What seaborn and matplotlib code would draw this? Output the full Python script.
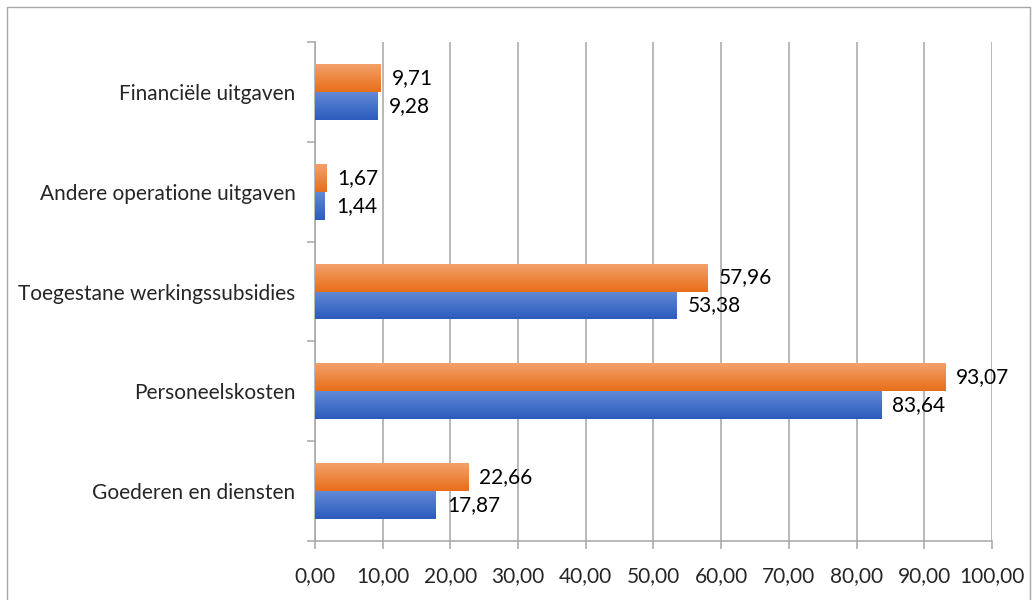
import numpy as np
import pandas as pd
import seaborn as sns
import matplotlib.pyplot as plt
from matplotlib.colors import LinearSegmentedColormap
from matplotlib.patches import Rectangle
from matplotlib.ticker import FixedLocator

categories = ["Financiële uitgaven", "Andere operatione uitgaven",
              "Toegestane werkingssubsidies", "Personeelskosten",
              "Goederen en diensten"]
series_names = ["Reeks 1", "Reeks 2"]
orange_vals = [9.71, 1.67, 57.96, 93.07, 22.66]
blue_vals = [9.28, 1.44, 53.38, 83.64, 17.87]
x_ticks = [0, 10, 20, 30, 40, 50, 60, 70, 80, 90, 100]

df = pd.DataFrame({
    "categorie": categories * 2,
    "reeks": [series_names[0]] * 5 + [series_names[1]] * 5,
    "waarde": orange_vals + blue_vals,
})

sns.set_style("white")
plt.rcParams['font.family'] = ['Lato', 'DejaVu Sans']

fig = plt.figure(figsize=(10.34, 6), dpi=100)
ax = fig.add_axes([0.3046, 0.0983, 0.6548, 0.8317])

palette = {series_names[0]: "#ED7D31", series_names[1]: "#4472C4"}
sns.barplot(data=df, y="categorie", x="waarde", hue="reeks", order=categories,
            hue_order=series_names, palette=palette, width=0.56, orient="h",
            legend=False, ax=ax, zorder=3, edgecolor="none", saturation=1)

grads = {0: ("#F4A069", "#E86E1A"), 1: ("#6189D6", "#2B5BBD")}
for i, cont in enumerate(ax.containers):
    cmap = LinearSegmentedColormap.from_list("g%d" % i, grads[i])
    for bar in cont:
        x0, y0, w, h = bar.get_x(), bar.get_y(), bar.get_width(), bar.get_height()
        grad = np.linspace(0, 1, 64).reshape(-1, 1)
        im = ax.imshow(grad, extent=[x0, x0 + w, y0 + h, y0], origin="upper",
                       aspect="auto", cmap=cmap, zorder=4)
        im.set_clip_path(bar)
    labels = [f"{v:.2f}".replace(".", ",") for v in cont.datavalues]
    ax.bar_label(cont, labels=labels, padding=8, fontsize=15, color="#000000")

ax.set_xlim(0, 100)
ax.set_ylim(len(categories) - 0.5, -0.5)
ax.set_xticks(x_ticks)
ax.set_xticklabels([f"{t:.2f}".replace(".", ",") for t in x_ticks])
ax.grid(axis="x", color="#A6A6A6", linewidth=1.1, zorder=0)
ax.grid(axis="y", visible=False)
ax.set_xlabel("")
ax.set_ylabel("")

for s in ["top", "right"]:
    ax.spines[s].set_visible(False)
for s in ["left", "bottom"]:
    ax.spines[s].set_color("#A6A6A6")
    ax.spines[s].set_linewidth(1.1)

ax.tick_params(axis="x", which="major", length=6, width=1.1, color="#A6A6A6",
               labelsize=15, pad=12, direction="out", bottom=True)
ax.tick_params(axis="y", which="major", length=0, labelsize=15, pad=14)
ax.yaxis.set_minor_locator(FixedLocator(np.arange(-0.5, len(categories), 1)))
ax.tick_params(axis="y", which="minor", length=6, width=1.1, color="#A6A6A6",
               left=True)

fig.patches.append(Rectangle((0.007, -0.01), 0.989, 0.998, transform=fig.transFigure,
                             fill=False, edgecolor="#A6A6A6", linewidth=1))

fig.savefig("out.png", dpi=100)
